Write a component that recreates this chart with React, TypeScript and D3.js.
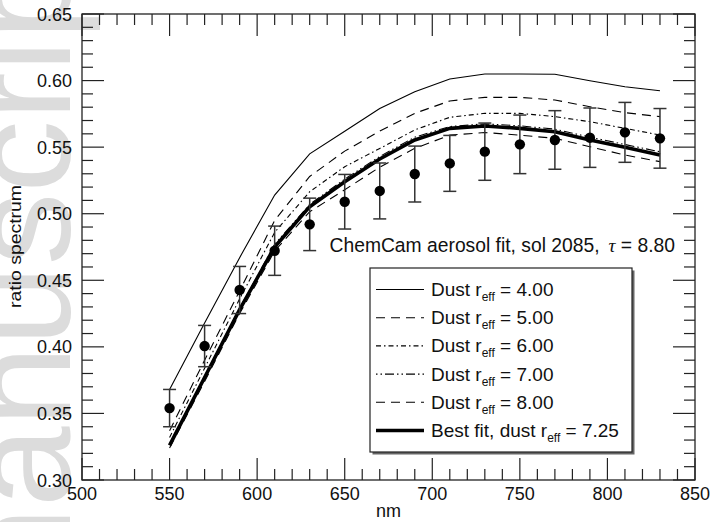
import React from "react";
import * as d3 from "d3";

const WAVELENGTH = [550, 570, 590, 610, 630, 650, 670, 690, 710, 730, 750, 770, 790, 810, 830];
const OBSERVED = [0.354, 0.4006, 0.4427, 0.4722, 0.492, 0.509, 0.5171, 0.5298, 0.5378, 0.5466, 0.5521, 0.5554, 0.5571, 0.5611, 0.5566];
const OBS_ERR = [0.014, 0.0155, 0.0177, 0.0185, 0.0197, 0.0205, 0.021, 0.021, 0.021, 0.0215, 0.022, 0.022, 0.0223, 0.0225, 0.0224];
const DUST_400 = [0.368, 0.418, 0.467, 0.514, 0.545, 0.562, 0.579, 0.5916, 0.6012, 0.6049, 0.6049, 0.6047, 0.5999, 0.5954, 0.5924];
const DUST_500 = [0.337, 0.39, 0.442, 0.495, 0.528, 0.547, 0.562, 0.5754, 0.5847, 0.5874, 0.5874, 0.5854, 0.5804, 0.5759, 0.5729];
const DUST_600 = [0.332, 0.384, 0.436, 0.486, 0.5165, 0.5353, 0.549, 0.5629, 0.5724, 0.5754, 0.5754, 0.5729, 0.5691, 0.5641, 0.5591];
const DUST_700 = [0.327, 0.378, 0.429, 0.477, 0.507, 0.526, 0.543, 0.5575, 0.5655, 0.5675, 0.566, 0.5635, 0.5575, 0.552, 0.5465];
const DUST_800 = [0.324, 0.374, 0.425, 0.472, 0.5015, 0.518, 0.535, 0.5491, 0.559, 0.561, 0.559, 0.5566, 0.5503, 0.5441, 0.5391];
const BEST_725 = [0.326, 0.377, 0.428, 0.475, 0.5053, 0.524, 0.5411, 0.5554, 0.5641, 0.5659, 0.5641, 0.5616, 0.5554, 0.5499, 0.5441];

const X_TICKS = [500, 550, 600, 650, 700, 750, 800, 850];
const Y_TICKS = [0.3, 0.35, 0.4, 0.45, 0.5, 0.55, 0.6, 0.65];
const LEGEND_VALUES = ["4.00", "5.00", "6.00", "7.00", "8.00"];
const ANNOTATION = "ChemCam aerosol fit, sol 2085,";
const TAU_VALUE = "8.80";
const BEST_VALUE = "7.25";

const W = 715, H = 522;
const L = 82, R = 695, T = 14, B = 480;
const FONT = "'Liberation Sans', Arial, Helvetica, sans-serif";

const series = [
  { values: DUST_400, dash: "none", width: 1.1 },
  { values: DUST_500, dash: "9,6", width: 1.1 },
  { values: DUST_600, dash: "5,3,1.5,3", width: 1.1 },
  { values: DUST_700, dash: "1.5,3,1.5,3,9,3", width: 1.1 },
  { values: DUST_800, dash: "9,6", width: 1.1 },
];

export default function App() {
  const x = d3.scaleLinear().domain([500, 850]).range([L, R]);
  const y = d3.scaleLinear().domain([0.3, 0.65]).range([B, T]);
  const line = (vals: number[]) =>
    d3.line<number>().x((_, i) => x(WAVELENGTH[i])).y((v) => y(v))(vals) || "";

  const xMinor = d3.range(500, 851, 10);
  const yMinor = d3.range(30, 66, 1).map((v) => v / 100);
  const major = 22, minor = 11;
  const axisColor = "#222";

  const legX = 370, legY = 268, legW = 262, legH = 184;
  const rowY = (i: number) => 296 + i * 28.2;

  return (
    <svg width={W} height={H} style={{ position: "absolute", left: 0, top: 0, display: "block", background: "#fff" }}>
      {/* watermark */}
      <text transform="translate(70,628) rotate(-90)" fontFamily={FONT} fontSize={145} fill="#dcdcdc">
        manuscript
      </text>

      {/* frame */}
      <rect x={L} y={T} width={R - L} height={B - T} fill="none" stroke={axisColor} strokeWidth={1.3} />

      {/* ticks */}
      {xMinor.map((v) => {
        const len = v % 50 === 0 ? major : minor;
        return (
          <g key={"xt" + v} stroke={axisColor} strokeWidth={1.2}>
            <line x1={x(v)} x2={x(v)} y1={B} y2={B - len} />
            <line x1={x(v)} x2={x(v)} y1={T} y2={T + len} />
          </g>
        );
      })}
      {yMinor.map((v, i) => {
        const len = i % 5 === 0 ? major : minor;
        return (
          <g key={"yt" + i} stroke={axisColor} strokeWidth={1.2}>
            <line x1={L} x2={L + len} y1={y(v)} y2={y(v)} />
            <line x1={R} x2={R - len} y1={y(v)} y2={y(v)} />
          </g>
        );
      })}
      {X_TICKS.map((v) => (
        <text key={"xl" + v} x={x(v)} y={500} textAnchor="middle" fontFamily={FONT} fontSize={18} fill="#111">
          {String(v)}
        </text>
      ))}
      {Y_TICKS.map((v) => (
        <text key={"yl" + v} x={72} y={y(v) + 6.5} textAnchor="end" fontFamily={FONT} fontSize={18} fill="#111">
          {v.toFixed(2)}
        </text>
      ))}
      <text x={(L + R) / 2} y={517} textAnchor="middle" fontFamily={FONT} fontSize={18} fill="#111">nm</text>
      <text
        transform={`translate(21,${(185 + 308) / 2}) rotate(-90)`}
        textAnchor="middle"
        fontFamily={FONT}
        fontSize={17}
        fill="#111"
        textLength={123}
        lengthAdjust="spacingAndGlyphs"
      >
        ratio spectrum
      </text>

      {/* model curves */}
      {series.map((s, i) => (
        <path key={"s" + i} d={line(s.values)} fill="none" stroke="#000" strokeWidth={s.width}
          strokeDasharray={s.dash === "none" ? undefined : s.dash} />
      ))}
      <path d={line(BEST_725)} fill="none" stroke="#000" strokeWidth={3.6} strokeLinejoin="round" />

      {/* observations */}
      {WAVELENGTH.map((w, i) => {
        const cx = x(w);
        const y1 = y(OBSERVED[i] + OBS_ERR[i]);
        const y2 = y(OBSERVED[i] - OBS_ERR[i]);
        return (
          <g key={"o" + i}>
            <g stroke="#333" strokeWidth={1.5}>
              <line x1={cx} x2={cx} y1={y1} y2={y2} />
              <line x1={cx - 6.5} x2={cx + 6.5} y1={y1} y2={y1} />
              <line x1={cx - 6.5} x2={cx + 6.5} y1={y2} y2={y2} />
            </g>
            <circle cx={cx} cy={y(OBSERVED[i])} r={5.2} fill="#000" />
          </g>
        );
      })}

      {/* annotation */}
      <text x={675} y={252} textAnchor="end" fontFamily={FONT} fontSize={19.3} fill="#111">
        {ANNOTATION}
        <tspan dx={9} fontFamily="'Liberation Serif', 'DejaVu Serif', serif" fontStyle="italic">τ</tspan>
        <tspan> = {TAU_VALUE}</tspan>
      </text>

      {/* legend */}
      <rect x={legX + 2.5} y={legY + 2.5} width={legW} height={legH} fill="#666" />
      <rect x={legX} y={legY} width={legW} height={legH} fill="#fff" stroke="#222" strokeWidth={1.2} />
      {LEGEND_VALUES.map((v, i) => (
        <g key={"lg" + i}>
          <line x1={376} x2={424} y1={rowY(i) - 6.5} y2={rowY(i) - 6.5} stroke="#000" strokeWidth={1.1}
            strokeDasharray={series[i].dash === "none" ? undefined : series[i].dash} />
          <text x={431} y={rowY(i)} fontFamily={FONT} fontSize={19} fill="#111">
            Dust r<tspan fontSize={12} dy={5}>eff</tspan><tspan dy={-5}> = {v}</tspan>
          </text>
        </g>
      ))}
      <line x1={376} x2={424} y1={rowY(5) - 6.5} y2={rowY(5) - 6.5} stroke="#000" strokeWidth={3.6} />
      <text x={431} y={rowY(5)} fontFamily={FONT} fontSize={19} fill="#111">
        Best fit, dust r<tspan fontSize={12} dy={5}>eff</tspan><tspan dy={-5}> = {BEST_VALUE}</tspan>
      </text>
    </svg>
  );
}
